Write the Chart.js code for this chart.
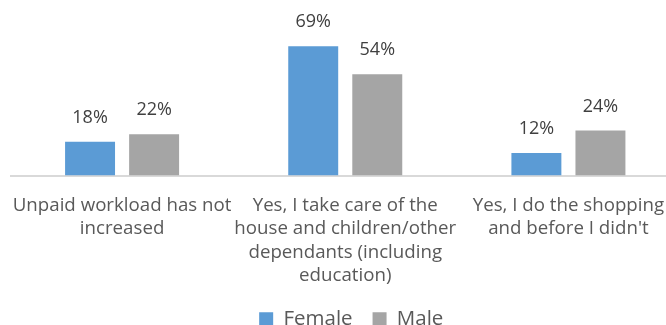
<!DOCTYPE html>
<html>
<head>
<meta charset="utf-8">
<script src="https://cdn.jsdelivr.net/npm/chart.js@4"></script>
<style>
  html, body { margin: 0; padding: 0; background: #fff; overflow: hidden; }
</style>
</head>
<body>
<canvas id="workChart" width="680" height="325"></canvas>
<script>
const categories = [
  ["Unpaid workload has not", "increased"],
  ["Yes, I take care of the", "house and children/other", "dependants (including", "education)"],
  ["Yes, I do the shopping", "and before I didn't"]
];
const femaleValues = [18, 69, 12];
const maleValues = [22, 54, 24];

const FONT = "'Open Sans', 'Noto Sans', sans-serif";

// Percent labels above each bar
const valueLabels = {
  id: "valueLabels",
  afterDatasetsDraw(chart) {
    const ctx = chart.ctx;
    ctx.save();
    ctx.font = "18px " + FONT;
    ctx.fillStyle = "#404040";
    ctx.textAlign = "center";
    ctx.textBaseline = "middle";
    chart.data.datasets.forEach((ds, i) => {
      chart.getDatasetMeta(i).data.forEach((bar, j) => {
        ctx.fillText(ds.data[j] + "%", bar.x, bar.y - 24);
      });
    });
    ctx.restore();
  }
};

// nudge the legend a little to the right
const legendShift = {
  id: "legendShift",
  afterLayout(chart) {
    chart.legend.left += 6;
    chart.legend.right += 6;
  }
};

const ctx = document.getElementById("workChart").getContext("2d");
const workChart = new Chart(ctx, {
  type: "bar",
  data: {
    labels: categories,
    datasets: [
      {
        label: "Female",
        data: femaleValues,
        backgroundColor: "#5B9BD5",
        categoryPercentage: 0.574,
        barPercentage: 0.78
      },
      {
        label: "Male",
        data: maleValues,
        backgroundColor: "#A5A5A5",
        categoryPercentage: 0.574,
        barPercentage: 0.78
      }
    ]
  },
  options: {
    responsive: false,
    animation: false,
    layout: { padding: { left: 10.5, right: 0, top: 35, bottom: -14 } },
    scales: {
      x: {
        grid: { display: false, drawTicks: false },
        border: { display: true, color: "#D9D9D9", width: 2 },
        ticks: {
          color: "#595959",
          font: { family: FONT, size: 18.7, lineHeight: 1.25 },
          padding: 18.5,
          maxRotation: 0,
          autoSkip: false
        },
        // labels may run into the legend's top padding and past the plot edges
        afterFit(scale) {
          scale.height -= 17.5;
          scale.paddingLeft = 0;
          scale.paddingRight = 0;
        }
      },
      y: {
        display: false,
        min: 0,
        max: 75
      }
    },
    plugins: {
      tooltip: { enabled: false },
      legend: {
        position: "bottom",
        labels: {
          color: "#595959",
          font: { family: FONT, size: 20.5 },
          boxWidth: 14,
          boxHeight: 13,
          padding: 20
        }
      }
    }
  },
  plugins: [valueLabels, legendShift]
});
</script>
</body>
</html>
